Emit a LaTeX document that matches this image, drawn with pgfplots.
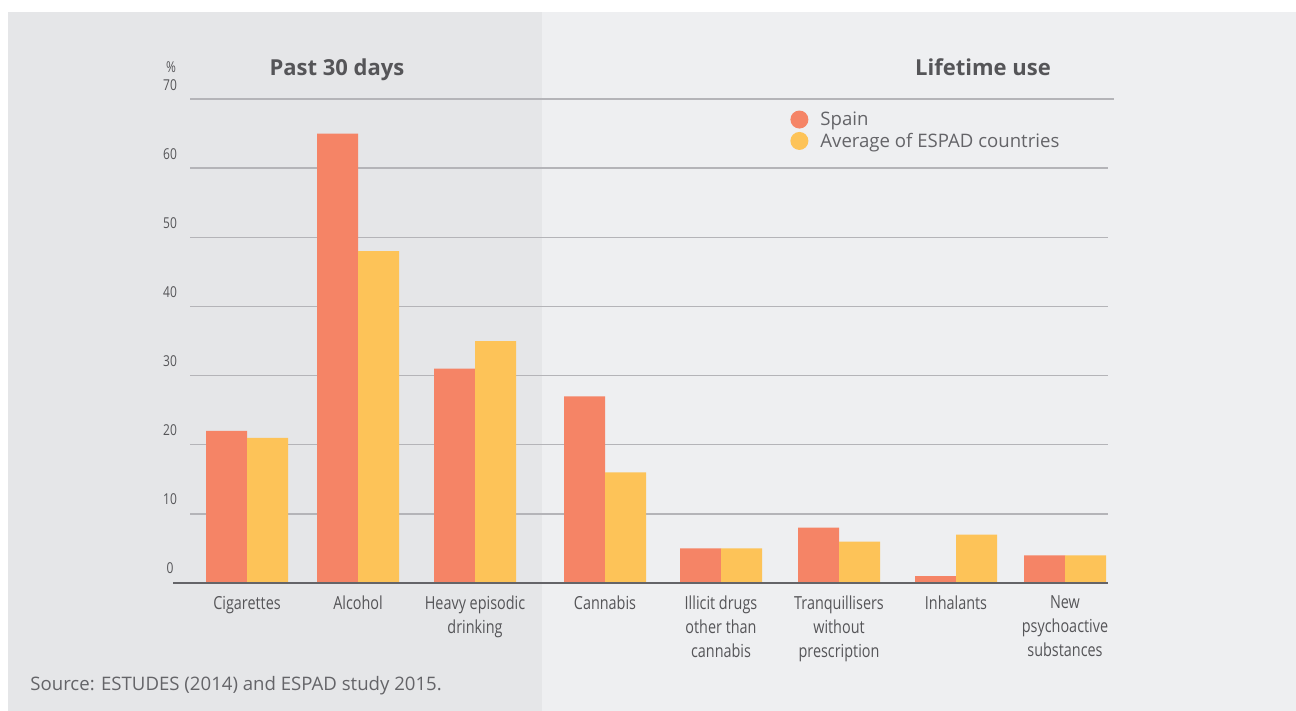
\documentclass[border=0pt]{standalone}
\usepackage{fontspec}
\setmainfont{Open Sans}
\newfontfamily\condfont{Open Sans}[FakeStretch=0.8]
\usepackage{pgfplots}
\usepackage{pgfplotstable}
\pgfplotsset{compat=1.18}
\definecolor{spain}{RGB}{245,132,102}
\definecolor{espad}{RGB}{253,195,88}
\definecolor{panelA}{RGB}{229,230,232}
\definecolor{panelB}{RGB}{238,239,241}
\definecolor{gridc}{RGB}{180,180,184}
\definecolor{basec}{RGB}{100,100,104}
\definecolor{txt}{RGB}{85,85,88}
\definecolor{lighttxt}{RGB}{100,100,104}

% x = centre of each category group, values in %
\pgfplotstableread{
x    spain espad
247  22    21
358  65    48
475  31    35
605  27    16
721  5     5
839  8     6
956  1     7
1065 4     4
}\data

\begin{document}
\begin{tikzpicture}[x=0.5pt,y=0.5pt]
\fill[white] (0,0) rectangle (1296,711);
\fill[panelA] (8,0) rectangle (542,699);
\fill[panelB] (542,0) rectangle (1296,699);
\begin{axis}[
  at={(95pt,64pt)}, anchor=south west,
  width=459pt, height=242pt, scale only axis,
  xmin=190, xmax=1108, ymin=0, ymax=70,
  axis line style={draw=none}, major tick length=0pt,
  ytick={0,10,...,70}, ymajorgrids,
  grid style={gridc, line width=0.75pt},
  xtick={247,358,475,605,721,839,956,1065},
  xticklabels={Cigarettes, Alcohol, Heavy episodic\\drinking, Cannabis,
    Illicit drugs\\other than\\cannabis, Tranquillisers\\without\\prescription,
    Inhalants, New\\psychoactive\\substances},
  xticklabel style={align=center, font=\condfont\fontsize{9}{12}\selectfont,
    text=txt, anchor=north, yshift=-3pt},
  yticklabel style={font=\condfont\fontsize{7.5}{8}\selectfont, text=txt,
    anchor=base, xshift=-10pt, yshift=4.5pt},
  /pgf/number format/assume math mode=true,
  clip=false,
  legend style={draw=none, fill=none, at={(0.6536,0.977)}, anchor=north west,
    inner sep=0pt, font=\fontsize{9.3}{11}\selectfont, text=lighttxt,
    row sep=1.5pt, nodes={inner sep=0pt, anchor=base west}},
  legend cell align=left,
  legend image code/.code={\fill (4.5pt,3.2pt) circle (4.5pt); \path (15pt,3pt);},
]
\addplot[ybar, bar width=41, bar shift=-20.5, fill=spain, draw=none]
  table[x=x, y=spain]{\data};
\addplot[ybar, bar width=41, bar shift=20.5, fill=espad, draw=none]
  table[x=x, y=espad]{\data};
\legend{Spain, Average of ESPAD countries}
\draw[gridc, line width=0.75pt] (axis cs:1108,70) -- (axis cs:1114,70);
\draw[basec, line width=0.75pt] (axis cs:173,0) -- (axis cs:1108,0);
\end{axis}
\node[anchor=base, font=\bfseries\fontsize{11}{13}\selectfont, text=txt] at (337,635) {Past 30 days};
\node[anchor=base, font=\bfseries\fontsize{11}{13}\selectfont, text=txt] at (983,635) {Lifetime use};
\node[font=\condfont\fontsize{7.5}{8}\selectfont, text=txt] at (171,644) {\%};
\node[anchor=west, inner sep=0pt, font=\fontsize{9.3}{11}\selectfont, text=lighttxt] at (30,25)
  {Source: ESTUDES (2014) and ESPAD study 2015.};
\end{tikzpicture}
\end{document}
